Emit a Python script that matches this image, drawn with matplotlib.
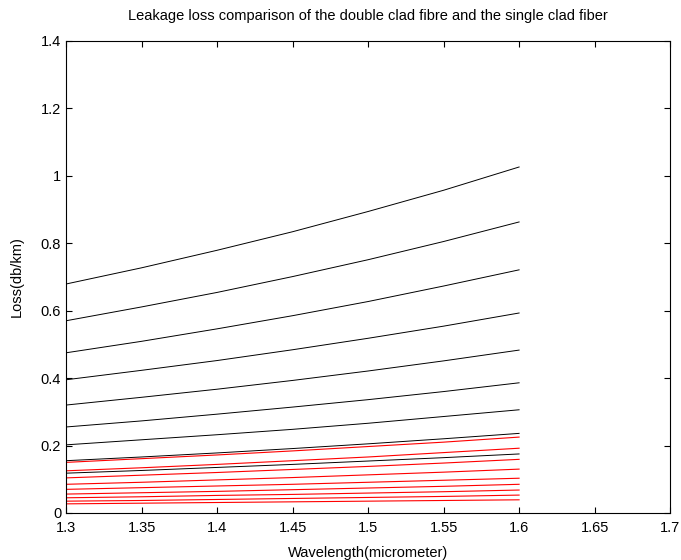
import numpy as np
import matplotlib.pyplot as plt
from matplotlib.ticker import FuncFormatter

plt.rcParams['font.family'] = ['Liberation Sans', 'DejaVu Sans']

wl = [1.3, 1.35, 1.4, 1.45, 1.5, 1.55, 1.6]

# double clad fibre (black)
double_clad = [
    [0.679, 0.727, 0.779, 0.834, 0.894, 0.957, 1.026],
    [0.570, 0.611, 0.654, 0.701, 0.751, 0.805, 0.863],
    [0.475, 0.509, 0.546, 0.585, 0.627, 0.673, 0.721],
    [0.395, 0.423, 0.452, 0.484, 0.518, 0.554, 0.593],
    [0.320, 0.343, 0.367, 0.393, 0.421, 0.451, 0.483],
    [0.255, 0.273, 0.293, 0.314, 0.336, 0.360, 0.386],
    [0.202, 0.217, 0.232, 0.248, 0.266, 0.286, 0.306],
    [0.155, 0.166, 0.178, 0.191, 0.205, 0.220, 0.236],
    [0.118, 0.126, 0.135, 0.144, 0.154, 0.164, 0.175],
]

# single clad fiber (red)
single_clad = [
    [0.150, 0.161, 0.172, 0.184, 0.197, 0.210, 0.225],
    [0.125, 0.134, 0.144, 0.155, 0.166, 0.179, 0.192],
    [0.104, 0.112, 0.120, 0.129, 0.138, 0.148, 0.159],
    [0.085, 0.091, 0.098, 0.105, 0.113, 0.121, 0.130],
    [0.070, 0.075, 0.080, 0.085, 0.091, 0.097, 0.103],
    [0.056, 0.060, 0.064, 0.069, 0.074, 0.079, 0.085],
    [0.045, 0.048, 0.052, 0.055, 0.059, 0.063, 0.068],
    [0.035, 0.037, 0.040, 0.043, 0.046, 0.049, 0.053],
    [0.027, 0.029, 0.031, 0.033, 0.035, 0.037, 0.039],
]

fig = plt.figure(figsize=(6.81, 5.6), dpi=100)
ax = fig.add_axes([0.097, 0.084, 0.887, 0.843])

for y in double_clad:
    ax.plot(wl, y, color='k', lw=0.7)
for y in single_clad:
    ax.plot(wl, y, color='r', lw=0.8)

ax.set_xlim(1.3, 1.7)
ax.set_ylim(0, 1.4)
ax.set_xticks(np.arange(1.3, 1.701, 0.05))
ax.set_yticks(np.arange(0, 1.401, 0.2))
ax.xaxis.set_major_formatter(FuncFormatter(lambda v, p: '%g' % round(v, 2)))
ax.yaxis.set_major_formatter(FuncFormatter(lambda v, p: '%g' % round(v, 1)))
ax.tick_params(direction='in', top=True, right=True, labelsize=10.5, length=4)
ax.tick_params(axis='x', pad=6)

ax.set_title('Leakage loss comparison of the double clad fibre and the single clad fiber',
             fontsize=10.5, pad=15)
ax.set_xlabel('Wavelength(micrometer)', fontsize=10.5, labelpad=8)
ax.set_ylabel('Loss(db/km)', fontsize=10.5, labelpad=12)

fig.savefig('out.png', dpi=100)
